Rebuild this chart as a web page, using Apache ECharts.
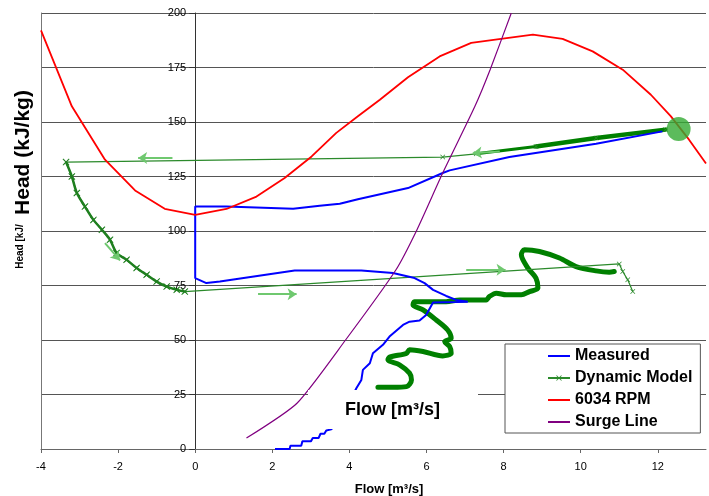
<!DOCTYPE html>
<html lang="en">
<head>
    <meta charset="UTF-8">
    <script src="https://cdn.jsdelivr.net/npm/echarts@6/dist/echarts.min.js"></script>
    <style>
        html, body { margin: 0; padding: 0; background: #fff; }
        #chart { width: 709px; height: 496px; }
    </style>
</head>
<body>
<div id="chart"></div>
<script>
    // axis setup
    var xMin = -4, xMax = 13.25, xStep = 2;
    var yMin = 0, yMax = 200, yStep = 25;

    // measured trajectory (flow, head)
    var measured = [
        [12.12, 145.7], [10.40, 140.0], [8.15, 133.9], [6.60, 127.8], [6.42, 126.6], [5.52, 119.7],
        [4.22, 114.6], [3.75, 112.5], [3.23, 111.6], [2.54, 110.2], [0.81, 111.2], [0, 111.2],
        [0, 78.4], [0.29, 76.1], [0.64, 76.8], [2.58, 81.9], [4.31, 81.9], [5.13, 80.7],
        [5.69, 78.4], [5.95, 76.1], [6.17, 73.0], [6.51, 70.2], [6.77, 68.4], [7.07, 67.6],
        [6.17, 67.2], [5.99, 61.5], [5.82, 58.9], [5.56, 58.4], [5.39, 56.9], [5.04, 51.6],
        [4.87, 47.8], [4.61, 43.9], [4.53, 39.3], [4.35, 36.3], [4.31, 31.7], [4.18, 27.9],
        [3.9, 18], [3.53, 9.0], [3.4, 8.5], [3.35, 7], [3.25, 7], [3.2, 5], [3.05, 5],
        [3.0, 3.5], [2.78, 3.5], [2.75, 1.5], [2.47, 1.5], [2.45, 0], [2.07, 0]
    ];

    // dynamic model: thin path with x markers
    var dynModel = [
        [12.2, 146.5], [10.4, 142.7], [8.84, 138.8], [7.29, 135.4], [6.42, 133.9], [-3.35, 131.6],
        [-3.20, 125.0], [-3.07, 117.4], [-2.86, 111.2], [-2.64, 105.1], [-2.42, 100.6], [-2.21, 96.0],
        [-2.04, 89.9], [-1.78, 86.8], [-1.52, 83.0], [-1.26, 79.9], [-1.0, 76.8], [-0.74, 74.5],
        [-0.48, 73.0], [-0.27, 72.2], [11.0, 84.9], [11.09, 81.4], [11.22, 77.6], [11.35, 72.2]
    ];
    // dense-marker stretch near the operating point
    var dynThick = [[12.2, 146.5], [10.4, 142.7], [8.84, 138.8]];
    var dynThin = [[8.84, 138.8], [7.29, 135.4]];
    var dynCurve = [
        [-3.35, 131.6], [-3.20, 125.0], [-3.07, 117.4], [-2.86, 111.2], [-2.64, 105.1], [-2.42, 100.6],
        [-2.21, 96.0], [-2.04, 89.9], [-1.78, 86.8], [-1.52, 83.0], [-1.26, 79.9], [-1.0, 76.8],
        [-0.74, 74.5], [-0.48, 73.0], [-0.27, 72.2]
    ];

    // thick green surge trajectory
    var wiggle = [
        [4.74, 28.3], [5.13, 28.3], [5.48, 28.6], [5.61, 31.7], [5.56, 34.8], [5.30, 38.6], [5.00, 40.9],
        [5.04, 42.1], [5.48, 43.9], [5.56, 45.5], [5.91, 44.7], [6.42, 42.7], [6.64, 43.9], [6.60, 47],
        [6.47, 49.3], [6.64, 50.8], [6.55, 54.6], [6.25, 59.2], [5.91, 63.8], [5.65, 66.1], [5.69, 67.6],
        [6.51, 67.6], [6.86, 68.4], [7.20, 68.4], [7.55, 68.4], [7.63, 69.9], [7.81, 71.5], [8.07, 70.7],
        [8.46, 70.7], [8.67, 72.2], [8.89, 73.8], [8.84, 78.4], [8.63, 83.0], [8.46, 89.1], [8.54, 91.4],
        [8.93, 90.6], [9.45, 87.6], [9.88, 83.7], [10.40, 81.7], [10.74, 81.1], [10.87, 81.4]
    ];

    // 6034 RPM speed line
    var rpmLine = [
        [-4.0, 192.0], [-3.20, 157.2], [-2.34, 132.7], [-1.56, 118.6], [-0.79, 110.2], [0, 107.4],
        [0.81, 110.1], [1.59, 115.8], [2.32, 124.3], [3.02, 134.2], [3.66, 145.0], [4.22, 152.6],
        [4.79, 160.2], [5.52, 170.5], [6.34, 180.1], [7.16, 186.3], [7.98, 188.2], [8.76, 190.1],
        [9.53, 188.1], [10.31, 182.4], [11.09, 174.0], [11.82, 162.5], [12.34, 152.6], [12.81, 141.9],
        [13.25, 131.0]
    ];

    // surge line
    var surgeLine = [
        [1.33, 5.0], [2.64, 21.0], [3.9, 50.0], [5.2, 82.0], [5.75, 100.5], [6.42, 126.6],
        [7.25, 157.0], [7.65, 174.0], [8.2, 200.0]
    ];

    var opPoint = [[12.54, 146.8]];

    // direction arrows [from, to]
    var arrows = [
        [[-0.59, 133.5], [-1.48, 133.5]],
        [[7.9, 136.5], [7.2, 135.7]],
        [[1.63, 71.0], [2.63, 71.0]],
        [[7.03, 82.2], [8.05, 82.2]],
        [[-2.34, 94.4], [-1.95, 86.5]]
    ];

    var legendNames = ['Measured', 'Dynamic Model', '6034 RPM', 'Surge Line'];

    var font = 'Liberation Sans, Arial, sans-serif';
    var xMark = 'path://M0,1L1,0L5,4L9,0L10,1L6,5L10,9L9,10L5,6L1,10L0,9L4,5Z';
    var dynColor = '#2b8a2b';

    var gridLeft = 41, gridRight = 3;
    var plotWidth = 709 - gridLeft - gridRight;
    // the value axis sits on flow = 0, not on the left edge
    var yAxisShift = -(0 - xMin) / (xMax - xMin) * plotWidth;

    var chart = echarts.init(document.getElementById('chart'));

    chart.setOption({
        animation: false,
        backgroundColor: '#fff',
        grid: { left: gridLeft, right: gridRight, top: 13, bottom: 47 },
        legend: {
            data: legendNames.map(function (n) {
                return n === 'Dynamic Model' ? { name: n } : { name: n, itemStyle: { opacity: 0 } };
            }),
            orient: 'vertical',
            left: 505,
            top: 344,
            backgroundColor: '#fff',
            borderColor: '#555',
            borderWidth: 1,
            borderRadius: 0,
            padding: [4, 8, 3, 42],
            itemWidth: 22,
            itemHeight: 7,
            itemGap: 6,
            textStyle: { fontFamily: font, fontSize: 16, fontWeight: 'bold', color: '#000', lineHeight: 16 },
            z: 20
        },
        xAxis: {
            type: 'value',
            min: xMin,
            max: xMax,
            interval: xStep,
            axisLine: { onZero: false, lineStyle: { color: '#666', width: 1 } },
            axisTick: { show: true, length: 4, lineStyle: { color: '#666' } },
            axisLabel: { showMaxLabel: false, margin: 12, fontFamily: font, fontSize: 11, color: '#000' },
            splitLine: { show: false }
        },
        yAxis: [{
            type: 'value',
            min: yMin,
            max: yMax,
            interval: yStep,
            position: 'left',
            offset: yAxisShift,
            axisLine: { show: true, onZero: false, lineStyle: { color: '#333', width: 1 } },
            axisTick: { show: true, length: 6, lineStyle: { color: '#333' } },
            axisLabel: { margin: 9, fontFamily: font, fontSize: 11, color: '#000' },
            splitLine: { show: true, lineStyle: { color: '#555', width: 1 } }
        }, {
            type: 'value',
            min: yMin,
            max: yMax,
            position: 'left',
            axisLine: { show: true, onZero: false, lineStyle: { color: '#777', width: 1 } },
            axisTick: { show: false },
            axisLabel: { show: false },
            splitLine: { show: false }
        }],
        graphic: [
            {
                type: 'text', z: 50, x: 20.5, y: 239, rotation: Math.PI / 2,
                style: { text: 'Head [kJ/kg]', fontFamily: font, fontSize: 10, fontWeight: 'bold',
                    fill: '#000', textAlign: 'center', textVerticalAlign: 'middle' }
            },
            { type: 'rect', z: 60, shape: { x: 9, y: 86, width: 29, height: 138 }, style: { fill: '#fff' } },
            {
                type: 'text', z: 61, x: 23.5, y: 152.5, rotation: Math.PI / 2,
                style: { text: 'Head (kJ/kg)', fontFamily: font, fontSize: 21, fontWeight: 'bold',
                    fill: '#000', textAlign: 'center', textVerticalAlign: 'middle' }
            },
            { type: 'rect', z: 60, shape: { x: 308, y: 390, width: 170, height: 39 }, style: { fill: '#fff' } },
            {
                type: 'text', z: 61, x: 392.5, y: 410,
                style: { text: 'Flow [m³/s]', fontFamily: font, fontSize: 18, fontWeight: 'bold',
                    fill: '#000', textAlign: 'center', textVerticalAlign: 'middle' }
            },
            {
                type: 'text', z: 50, x: 389, y: 489,
                style: { text: 'Flow [m³/s]', fontFamily: font, fontSize: 13, fontWeight: 'bold',
                    fill: '#000', textAlign: 'center', textVerticalAlign: 'middle' }
            }
        ],
        series: [
            {
                name: 'Surge trajectory',
                type: 'line',
                data: wiggle,
                symbol: 'none',
                smooth: 0.3,
                lineStyle: { color: '#008000', width: 5, cap: 'round', join: 'round' },
                z: 2
            },
            {
                name: 'Dynamic Model',
                type: 'line',
                data: dynModel,
                symbol: xMark,
                symbolSize: 5,
                showSymbol: true,
                itemStyle: { color: dynColor },
                lineStyle: { color: dynColor, width: 1.2 },
                z: 3
            },
            {
                name: 'Dynamic Model',
                type: 'line',
                data: dynCurve,
                symbol: xMark,
                symbolSize: 7,
                smooth: 0.3,
                itemStyle: { color: '#1f7f1f' },
                lineStyle: { color: '#1f7f1f', width: 2.5 },
                z: 3
            },
            {
                name: 'Dynamic Model',
                type: 'line',
                data: dynThick,
                symbol: 'none',
                itemStyle: { color: '#008000' },
                lineStyle: { color: '#008000', width: 4.5, cap: 'round' },
                z: 3
            },
            {
                name: 'Dynamic Model',
                type: 'line',
                data: dynThin,
                symbol: 'none',
                itemStyle: { color: '#008000' },
                lineStyle: { color: '#008000', width: 3, cap: 'round' },
                z: 3
            },
            {
                name: 'arrows',
                type: 'line',
                data: [],
                markLine: {
                    silent: true,
                    symbol: ['none', 'arrow'],
                    symbolSize: 9,
                    label: { show: false },
                    lineStyle: { color: '#6fc86f', width: 2, type: 'solid' },
                    data: arrows.map(function (a) {
                        return [{ coord: a[0] }, { coord: a[1] }];
                    })
                },
                z: 4
            },
            {
                name: 'Measured',
                type: 'line',
                data: measured,
                symbol: 'none',
                itemStyle: { color: '#0000ff' },
                lineStyle: { color: '#0000ff', width: 2 },
                z: 5
            },
            {
                name: '6034 RPM',
                type: 'line',
                data: rpmLine,
                symbol: 'none',
                itemStyle: { color: '#ff0000' },
                lineStyle: { color: '#ff0000', width: 1.8 },
                z: 6
            },
            {
                name: 'Surge Line',
                type: 'line',
                data: surgeLine,
                symbol: 'none',
                smooth: 0.2,
                itemStyle: { color: '#800080' },
                lineStyle: { color: '#800080', width: 1.2 },
                z: 7
            },
            {
                name: 'Operating point',
                type: 'scatter',
                data: opPoint,
                symbol: 'circle',
                symbolSize: 24,
                itemStyle: { color: '#33aa33' },
                z: 8
            }
        ]
    });
</script>
</body>
</html>
